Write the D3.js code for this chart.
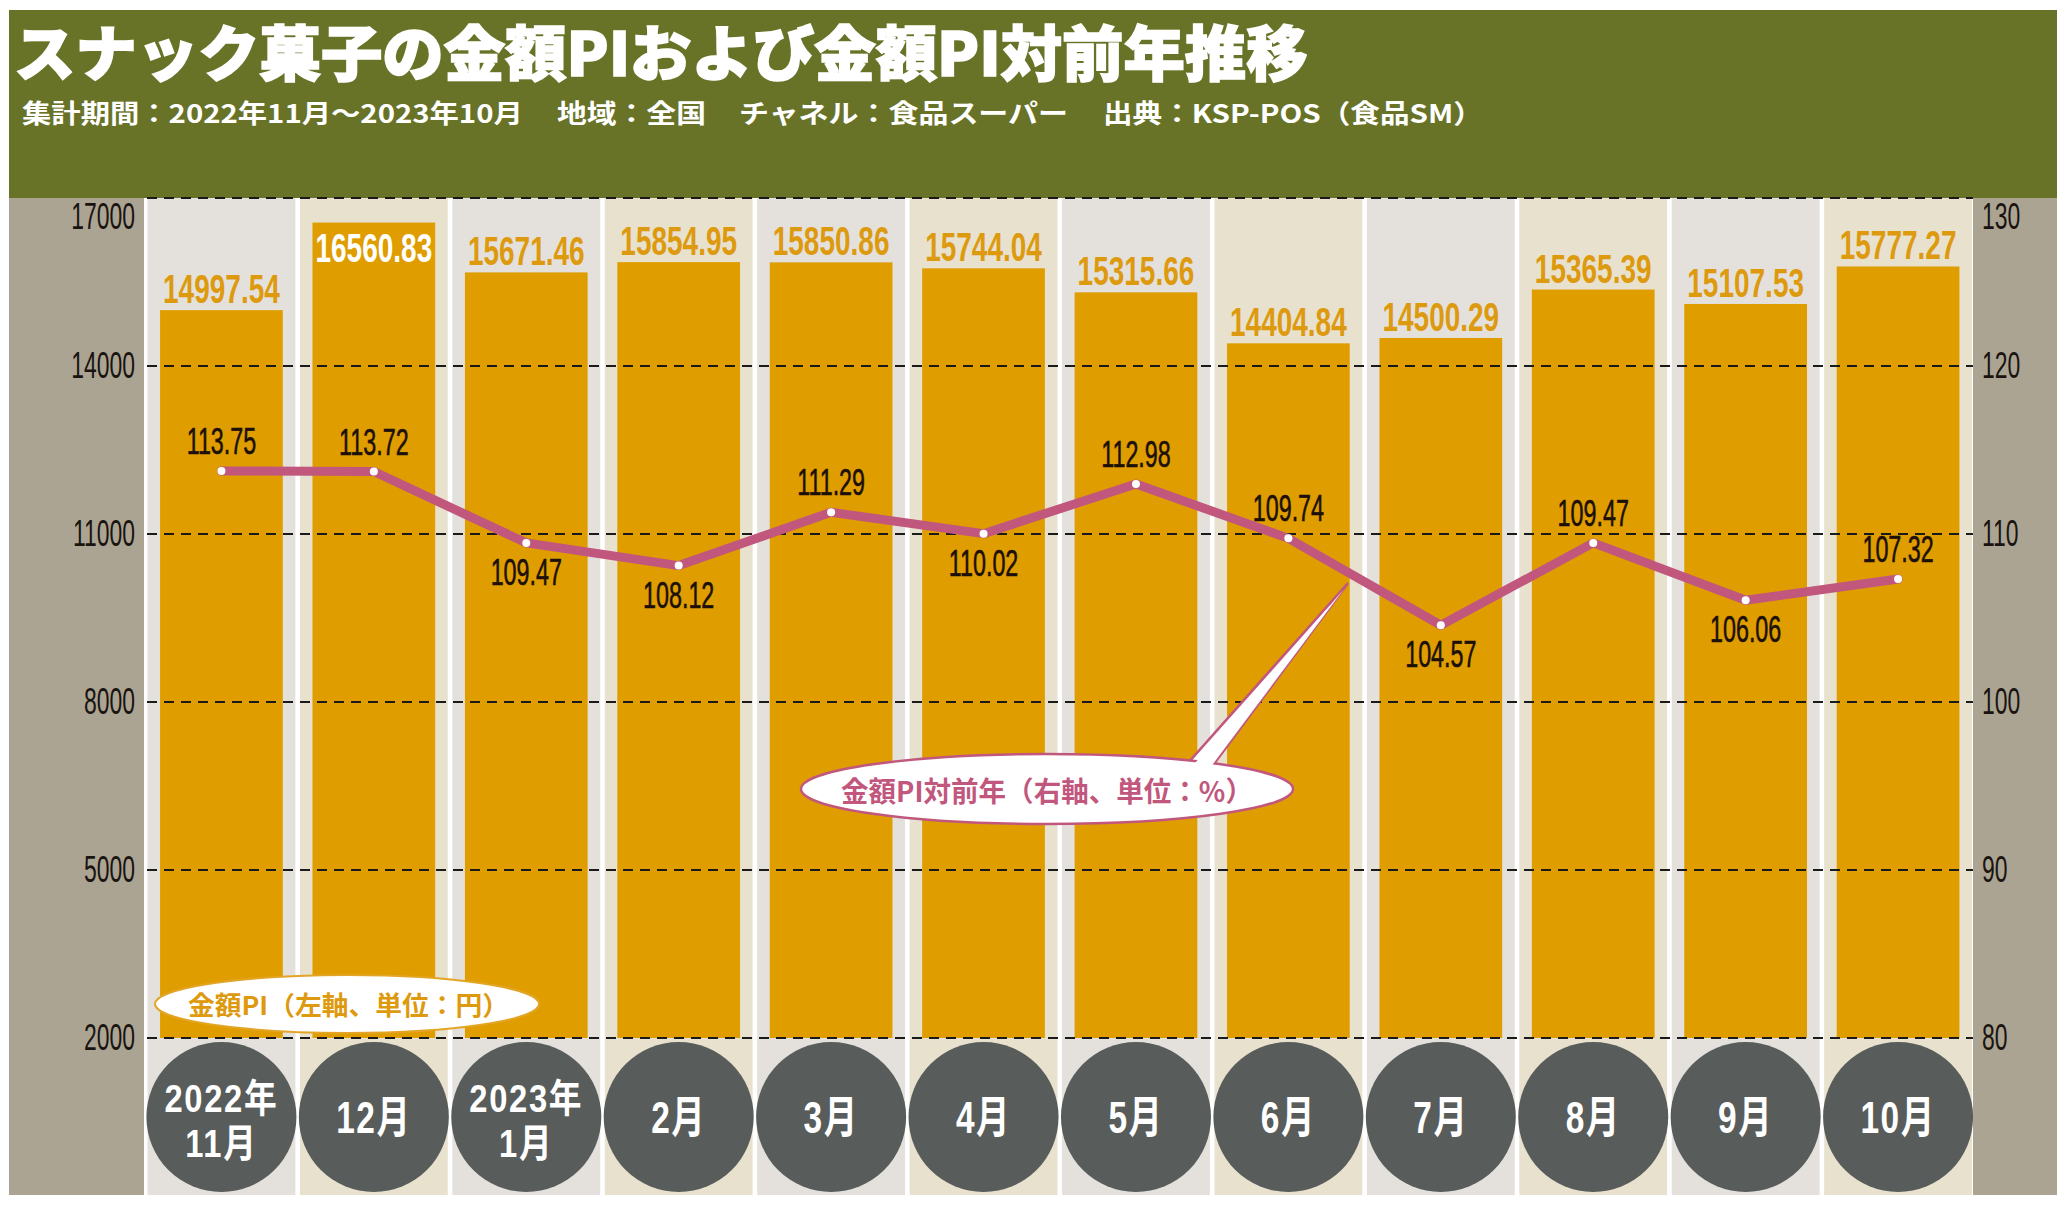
<!DOCTYPE html>
<html><head><meta charset="utf-8">
<script src="https://cdn.jsdelivr.net/npm/d3@7"></script>
<style>body{margin:0;background:#fff;} svg{display:block}</style>
</head><body>
<svg id="c" width="2068" height="1206"></svg>
<script>
// ---------- data ----------
const months = ["2022年11月","12月","2023年1月","2月","3月","4月","5月","6月","7月","8月","9月","10月"];
const piValues = [14997.54,16560.83,15671.46,15854.95,15850.86,15744.04,15315.66,14404.84,14500.29,15365.39,15107.53,15777.27];
const yoyValues = [113.75,113.72,109.47,108.12,111.29,110.02,112.98,109.74,104.57,109.47,106.06,107.32];
const leftTicks = [2000,5000,8000,11000,14000,17000];
const rightTicks = [80,90,100,110,120,130];
const titleText = "スナック菓子の金額PIおよび金額PI対前年推移";
const subtitleParts = ["集計期間：2022年11月～2023年10月","地域：全国","チャネル：食品スーパー","出典：KSP-POS（食品SM）"];
const legendPI = "金額PI（左軸、単位：円）";
const legendYoY = "金額PI対前年（右軸、単位：%）";

// ---------- layout ----------
const svg = d3.select("#c");
const NUM = "'Liberation Sans', Arial, sans-serif";
const CJK = "'Noto Sans CJK JP', 'Noto Sans', sans-serif";
const plotTop = 198, base = 1038, colBottom = 1195;
const GREEN = "#687328", PANEL = "#aca493", BAR = "#df9d00", LINE = "#c2577e", DISC = "#585c5a";

const x = d3.scaleBand().domain(months).range([147.5, 1972]).paddingInner(0.03);
const yL = d3.scaleLinear().domain([2000, 17000]).range([base, plotTop]);
const yR = d3.scaleLinear().domain([80, 130]).range([base, plotTop]);
const bw = x.bandwidth();
const barW = bw * 0.83;
const cx = m => x(m) + bw / 2;

// header
svg.append("rect").attr("x", 9).attr("y", 10).attr("width", 2048).attr("height", plotTop - 10).attr("fill", GREEN);
// side panels
svg.append("rect").attr("x", 9).attr("y", plotTop).attr("width", 135).attr("height", colBottom - plotTop).attr("fill", PANEL);
svg.append("rect").attr("x", 1973).attr("y", plotTop).attr("width", 84).attr("height", colBottom - plotTop).attr("fill", PANEL);

function fitText(sel, target) {
  sel.each(function () {
    const l = this.getComputedTextLength();
    const tx = +this.getAttribute("data-x"), ty = +this.getAttribute("data-y");
    this.setAttribute("transform", `translate(${tx},${ty}) scale(${target / l},1)`);
  });
}
function condenseAt(sel, ratio) {
  sel.attr("transform", function () {
    return `translate(${this.getAttribute("data-x")},${this.getAttribute("data-y")}) scale(${ratio},1)`;
  });
}

// title
svg.append("text").text(titleText)
  .attr("data-x", 14).attr("data-y", 76)
  .attr("font-family", CJK).attr("font-weight", 900).attr("font-size", 60)
  .attr("fill", "#fff").attr("stroke", "#fff").attr("stroke-width", 1.6)
  .call(fitText, 1294);

const subX = [22, 557, 739, 1103], subW = [501, 149, 329, 380];
subtitleParts.forEach((s, i) => {
  svg.append("text").text(s)
    .attr("data-x", subX[i]).attr("data-y", 123)
    .attr("font-family", CJK).attr("font-weight", 700).attr("font-size", 26)
    .attr("fill", "#fff")
    .call(fitText, subW[i]);
});

// column backgrounds
svg.append("g").selectAll("rect").data(months).join("rect")
  .attr("x", d => x(d)).attr("y", plotTop).attr("width", bw).attr("height", colBottom - plotTop)
  .attr("fill", (d, i) => i % 2 === 0 ? "#e4e1dc" : "#e8e1ce");

// bars
svg.append("g").selectAll("rect").data(piValues).join("rect")
  .attr("x", (d, i) => cx(months[i]) - barW / 2)
  .attr("y", d => yL(d))
  .attr("width", barW)
  .attr("height", d => base - yL(d))
  .attr("fill", BAR);

// gridlines
svg.append("g").selectAll("line").data(leftTicks).join("line")
  .attr("x1", 147).attr("x2", 1973)
  .attr("y1", d => yL(d)).attr("y2", d => yL(d))
  .attr("stroke", "#1a1a1a").attr("stroke-width", 2).attr("stroke-dasharray", "10,7");

// axes
const axL = svg.append("g").attr("transform", "translate(135,0)")
  .call(d3.axisLeft(yL).tickValues(leftTicks).tickSize(0).tickPadding(0).tickFormat(d3.format("d")));
const axR = svg.append("g").attr("transform", "translate(1982,0)")
  .call(d3.axisRight(yR).tickValues(rightTicks).tickSize(0).tickPadding(0).tickFormat(d3.format("d")));
[axL, axR].forEach(ax => {
  ax.select(".domain").remove();
  ax.selectAll("text")
    .attr("font-family", NUM).attr("font-size", 37).attr("fill", "#1a1410")
    .attr("transform", d => (d === 17000 || d === 130) ? "translate(0,19) scale(0.62,1)" : "scale(0.62,1)");
});

// bar value labels
svg.append("g").selectAll("text").data(piValues).join("text")
  .text(d => d.toFixed(2))
  .attr("text-anchor", "middle")
  .attr("font-family", NUM).attr("font-weight", 700).attr("font-size", 40)
  .each(function (d, i) {
    const t = yL(d);
    const inside = t - 7 - 29 < plotTop;
    this.setAttribute("data-x", cx(months[i]));
    this.setAttribute("data-y", inside ? t + 39 : t - 7);
    this.setAttribute("fill", inside ? "#fff" : "#dd9a0e");
  })
  .call(condenseAt, 0.7);

// line
const line = d3.line().x((d, i) => cx(months[i])).y(d => yR(d));
svg.append("path").datum(yoyValues).attr("d", line)
  .attr("fill", "none").attr("stroke", LINE).attr("stroke-width", 9)
  .attr("stroke-linejoin", "round").attr("stroke-linecap", "round");
svg.append("g").selectAll("circle").data(yoyValues).join("circle")
  .attr("cx", (d, i) => cx(months[i])).attr("cy", d => yR(d)).attr("r", 4).attr("fill", "#fff");

const labelBelow = [false, false, true, true, false, true, false, false, true, false, true, false];
svg.append("g").selectAll("text").data(yoyValues).join("text")
  .text(d => d.toFixed(2))
  .attr("text-anchor", "middle")
  .attr("font-family", NUM).attr("font-size", 37).attr("fill", "#1c1008")
  .attr("stroke", "#1c1008").attr("stroke-width", 0.6)
  .each(function (d, i) {
    this.setAttribute("data-x", cx(months[i]));
    this.setAttribute("data-y", labelBelow[i] ? yR(d) + 42 : yR(d) - 17);
  })
  .call(condenseAt, 0.63);

// legend: PI (gold)
svg.append("ellipse").attr("cx", 347).attr("cy", 1004).attr("rx", 192).attr("ry", 29)
  .attr("fill", "#fff").attr("stroke", "#e2a526").attr("stroke-width", 2);
svg.append("text").text(legendPI)
  .attr("data-x", 188).attr("data-y", 1015)
  .attr("font-family", CJK).attr("font-weight", 700).attr("font-size", 26).attr("fill", "#dd9a0e")
  .call(fitText, 321);

// legend: YoY (pink) with pointer
svg.append("polygon").attr("points", "1180,772 1208,772 1348,583")
  .attr("fill", "#fff").attr("stroke", LINE).attr("stroke-width", 2.5).attr("stroke-linejoin", "miter");
svg.append("ellipse").attr("cx", 1047).attr("cy", 789).attr("rx", 246).attr("ry", 35)
  .attr("fill", "#fff").attr("stroke", LINE).attr("stroke-width", 2.5);
svg.append("polygon").attr("points", "1184,776 1204,776 1344,589").attr("fill", "#fff");
svg.append("text").text(legendYoY)
  .attr("data-x", 841).attr("data-y", 802)
  .attr("font-family", CJK).attr("font-weight", 700).attr("font-size", 28).attr("fill", LINE)
  .call(fitText, 412);

// month discs
svg.append("g").selectAll("circle").data(months).join("circle")
  .attr("cx", d => cx(d)).attr("cy", 1117).attr("r", 75).attr("fill", DISC);
const mg = svg.append("g");
months.forEach(m => {
  const two = m.includes("年");
  const parts = two ? [m.slice(0, m.indexOf("年") + 1), m.slice(m.indexOf("年") + 1)] : [m];
  const fs = two ? 39 : 44;
  const ys = two ? [1112, 1157] : [1133];
  parts.forEach((p, j) => {
    mg.append("text").text(p)
      .attr("text-anchor", "middle")
      .attr("font-family", NUM + ", " + CJK).attr("font-weight", 700).attr("font-size", fs)
      .attr("letter-spacing", 2)
      .attr("fill", "#fff")
      .attr("data-x", cx(m)).attr("data-y", ys[j])
      .call(condenseAt, two ? 0.84 : 0.76);
  });
});
</script>
</body></html>
